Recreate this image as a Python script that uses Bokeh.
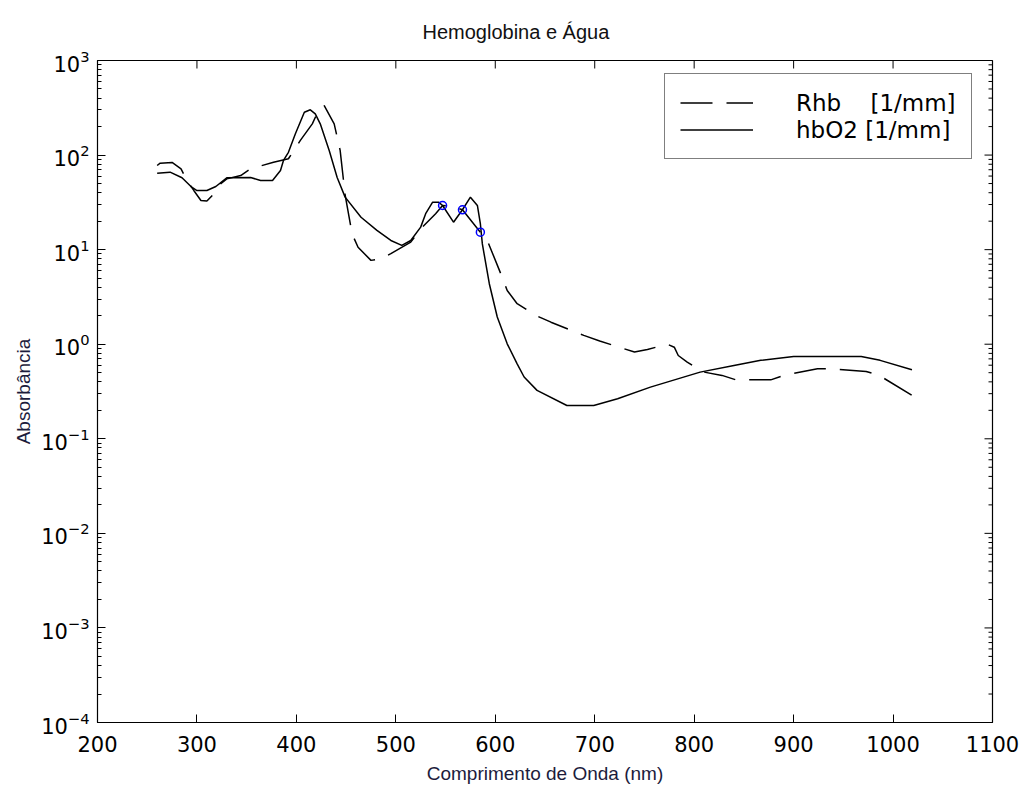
import math
from bokeh.plotting import figure
from bokeh.models import (Range1d, FixedTicker, LogTickFormatter, Legend, LegendItem)
from bokeh.embed import file_html
from bokeh.resources import INLINE

# ---- data ----
wl_rhb = [260, 263, 275, 284, 290, 297, 304, 310, 317, 324, 330, 344, 354, 377, 392,
          404, 416, 423, 428, 438, 441, 444, 449, 456, 462, 475, 485, 495, 515, 525,
          540, 547, 555, 567, 585, 592, 607, 612, 622, 641, 656, 689, 705, 740, 753,
          773, 780, 784, 793, 806, 810, 828, 842, 877, 890, 924, 937, 973, 986, 1021]
abs_rhb = [77.6, 82, 83.5, 71.6, 53.8, 42, 33.1, 32.6, 39, 49.8, 56, 60.8, 71.6, 84, 91.4,
           143, 214, 308, 334, 214, 155, 112, 38, 14.7, 10.6, 7.7, 8.0, 9.06, 12, 16.6,
           24, 29.3, 29, 26.4, 15.3, 12.5, 5.1, 3.7, 2.68, 2.01, 1.71, 1.24, 1.08, 0.826, 0.88,
           1.0, 0.93, 0.76, 0.647, 0.528, 0.507, 0.468, 0.42, 0.42, 0.468, 0.55, 0.55, 0.515, 0.468, 0.28]

wl_hbo2 = [260, 273, 285, 294, 300, 310, 319, 330, 354, 364, 376, 384, 387, 392, 399,
           408, 414, 419, 424, 433, 441, 449, 465, 481, 495, 506, 515, 525, 530, 537,
           543, 547, 558, 567, 575, 582, 585, 587, 594, 602, 612, 622, 629, 642, 672,
           699, 723, 756, 806, 840, 867, 900, 968, 987, 1019]
abs_hbo2 = [64.4, 66, 57.5, 46.5, 42.2, 42.2, 46.5, 57.5, 58, 53.8, 53.8, 68.7, 87.7, 107, 168,
            284, 301, 273, 214, 112, 58, 35.9, 22, 16, 12.5, 11.1, 12.5, 17.3, 24, 31.8,
            31.8, 29.3, 19.5, 26.4, 35.9, 29.3, 18.8, 11.5, 4.36, 1.94, 1.01, 0.62, 0.45, 0.325, 0.225,
            0.225, 0.265, 0.352, 0.507, 0.597, 0.675, 0.743, 0.743, 0.675, 0.537]

mark_wl = [547, 567, 585]
mark_abs = [29.3, 26.4, 15.3]

x_ticks = [200, 300, 400, 500, 600, 700, 800, 900, 1000, 1100]
y_ticks = [1e-4, 1e-3, 1e-2, 1e-1, 1e0, 1e1, 1e2, 1e3]
y_minor = [m * d for d in y_ticks[:-1] for m in range(2, 10)]

title_text = "Hemoglobina e \u00c1gua"
label_rhb = "Rhb\u00a0\u00a0\u00a0\u00a0[1/mm]"
label_hbo2 = "hbO2 [1/mm]"

SANS = "Liberation Sans, Arial, sans-serif"
WIDE = "DejaVu Sans, sans-serif"

x0, x1 = x_ticks[0], x_ticks[-1]
y0, y1 = y_ticks[0], y_ticks[-1]

p = figure(width=1020, height=790, x_range=Range1d(x0, x1), y_range=Range1d(y0, y1),
           y_axis_type="log", output_backend="svg", toolbar_location=None,
           min_border_left=97, min_border_right=28, min_border_top=60, min_border_bottom=68)
p.grid.visible = False
p.outline_line_color = "black"
p.outline_line_width = 1.2
p.background_fill_color = "white"
p.border_fill_color = "white"

p.title.text = title_text
p.title.align = "left"
p.title.offset = 325
p.title.text_font = SANS
p.title.text_font_size = "20px"
p.title.text_font_style = "normal"
p.title.text_color = "#111111"
p.title.standoff = 36

r_rhb = p.line(wl_rhb, abs_rhb, line_color="black", line_width=1.5, line_dash="32 14")
r_hbo2 = p.line(wl_hbo2, abs_hbo2, line_color="black", line_width=1.5)
p.scatter(mark_wl, mark_abs, marker="circle", size=8, fill_color=None,
          line_color="#0000ff", line_width=1.5)

# inward ticks on the top and right edges of the box
p.ray(x=x_ticks[1:-1], y=[y1] * (len(x_ticks) - 2), length=8, length_units="screen",
      angle=-math.pi / 2, line_color="black", line_width=1)
p.ray(x=[x1] * (len(y_ticks) - 2), y=y_ticks[1:-1], length=8, length_units="screen",
      angle=math.pi, line_color="black", line_width=1)
p.ray(x=[x1] * len(y_minor), y=y_minor, length=4, length_units="screen",
      angle=math.pi, line_color="black", line_width=1)

xt = FixedTicker(ticks=x_ticks)
yt = FixedTicker(ticks=y_ticks, minor_ticks=y_minor)

xa = p.xaxis[0]
xa.ticker = xt
xa.axis_label = "Comprimento de Onda (nm)"
ya = p.yaxis[0]
ya.ticker = yt
ya.formatter = LogTickFormatter()
ya.axis_label = "Absorb\u00e2ncia"

for ax in (xa, ya):
    ax.major_tick_in = 8
    ax.major_tick_out = 0
    ax.minor_tick_in = 4
    ax.minor_tick_out = 0
    ax.axis_line_color = "black"
    ax.major_tick_line_color = "black"
    ax.minor_tick_line_color = "black"
    ax.major_label_text_font = WIDE
    ax.major_label_text_font_size = "21px"
    ax.major_label_text_color = "black"
    ax.axis_label_text_font = SANS
    ax.axis_label_text_font_size = "19px"
    ax.axis_label_text_font_style = "normal"
    ax.axis_label_text_color = "#1c1c3c"
xa.minor_tick_in = 0
xa.major_label_standoff = 13
xa.axis_label_standoff = 8
ya.major_label_standoff = 8
ya.axis_label_standoff = 4

legend = Legend(items=[LegendItem(label=label_rhb, renderers=[r_rhb]),
                       LegendItem(label=label_hbo2, renderers=[r_hbo2])],
                location=(567, 563), margin=0, padding=15, spacing=0,
                glyph_width=73, glyph_height=27, label_height=27, label_standoff=43,
                label_text_font=WIDE, label_text_font_size="23px", label_text_color="black",
                border_line_color="black", border_line_width=1.5, background_fill_color="white",
                background_fill_alpha=1.0)
p.add_layout(legend)

open("out.html", "w").write(file_html(p, INLINE))
